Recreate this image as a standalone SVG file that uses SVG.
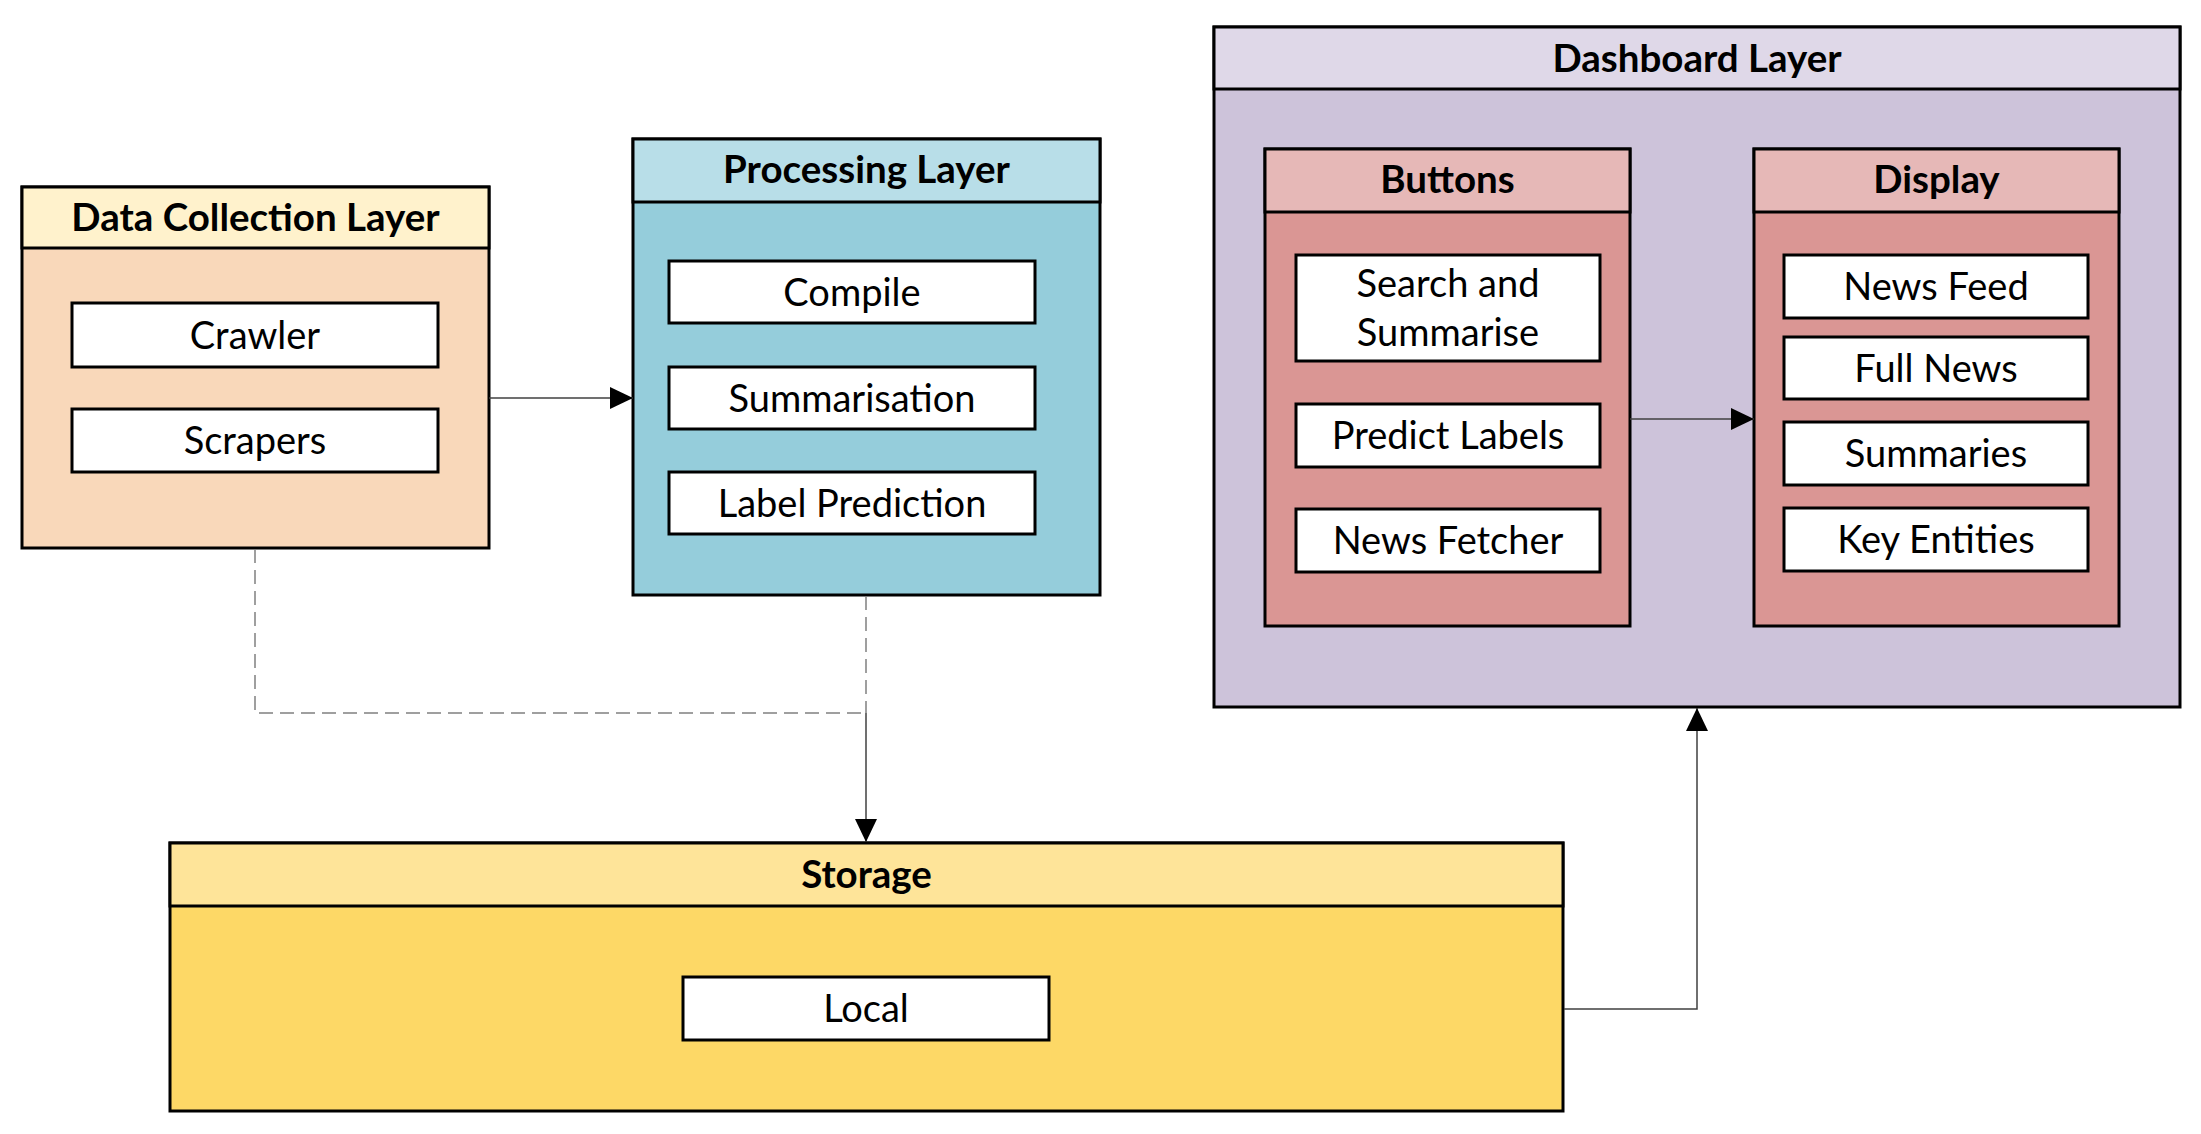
<svg xmlns="http://www.w3.org/2000/svg" width="2201" height="1134" viewBox="0 0 2201 1134">
<defs>
<style>
.box{stroke:#000;stroke-width:3}
.item{fill:#fff;stroke:#000;stroke-width:3}
.title{font-family:Lato,"Liberation Sans",sans-serif;font-weight:bold;font-size:38.5px;text-anchor:middle;fill:#000}
.lbl{font-family:Lato,"Liberation Sans",sans-serif;font-size:38px;text-anchor:middle;fill:#000}
.conn{fill:none;stroke:#404040;stroke-width:1.5}
.dash{fill:none;stroke:#808080;stroke-width:1.5;stroke-dasharray:14 7}
</style>
<marker id="arr" markerUnits="userSpaceOnUse" markerWidth="24" markerHeight="22" refX="23" refY="11" orient="auto">
<path d="M0,0 L23,11 L0,22 Z" fill="#000"/>
</marker>
</defs>
<rect width="2201" height="1134" fill="#fff"/>

<g id="data-collection">
<rect class="box" x="22" y="187" width="467" height="361" fill="#F9D8BA"/>
<rect class="box" x="22" y="187" width="467" height="61" fill="#FFF2CC"/>
<text class="title" x="255.5" y="231">Data Collection Layer</text>
<rect class="item" x="72" y="303" width="366" height="64"/>
<text class="lbl" x="255" y="349">Crawler</text>
<rect class="item" x="72" y="409" width="366" height="63"/>
<text class="lbl" x="255" y="454">Scrapers</text>
</g>

<g id="processing">
<rect class="box" x="633" y="139" width="467" height="456" fill="#95CDDB"/>
<rect class="box" x="633" y="139" width="467" height="63" fill="#B8DEE8"/>
<text class="title" x="866.5" y="183">Processing Layer</text>
<rect class="item" x="669" y="261" width="366" height="62"/>
<text class="lbl" x="852" y="306">Compile</text>
<rect class="item" x="669" y="367" width="366" height="62"/>
<text class="lbl" x="852" y="412">Summarisation</text>
<rect class="item" x="669" y="472" width="366" height="62"/>
<text class="lbl" x="852" y="517">Label Prediction</text>
</g>

<g id="dashboard">
<rect class="box" x="1214" y="27" width="966" height="680" fill="#CDC3DA"/>
<rect class="box" x="1214" y="27" width="966" height="62" fill="#DFD8E8"/>
<text class="title" x="1697" y="72">Dashboard Layer</text>
</g>

<g id="buttons">
<rect class="box" x="1265" y="149" width="365" height="477" fill="#DA9694"/>
<rect class="box" x="1265" y="149" width="365" height="63" fill="#E6B8B7"/>
<text class="title" x="1447.5" y="193">Buttons</text>
<rect class="item" x="1296" y="255" width="304" height="106"/>
<text class="lbl" x="1448" y="297">Search and</text>
<text class="lbl" x="1448" y="346">Summarise</text>
<rect class="item" x="1296" y="404" width="304" height="63"/>
<text class="lbl" x="1448" y="449">Predict Labels</text>
<rect class="item" x="1296" y="509" width="304" height="63"/>
<text class="lbl" x="1448" y="554">News Fetcher</text>
</g>

<g id="display">
<rect class="box" x="1754" y="149" width="365" height="477" fill="#DA9694"/>
<rect class="box" x="1754" y="149" width="365" height="63" fill="#E6B8B7"/>
<text class="title" x="1936.5" y="193">Display</text>
<rect class="item" x="1784" y="255" width="304" height="63"/>
<text class="lbl" x="1936" y="300">News Feed</text>
<rect class="item" x="1784" y="337" width="304" height="62"/>
<text class="lbl" x="1936" y="382">Full News</text>
<rect class="item" x="1784" y="422" width="304" height="63"/>
<text class="lbl" x="1936" y="467">Summaries</text>
<rect class="item" x="1784" y="508" width="304" height="63"/>
<text class="lbl" x="1936" y="553">Key Entities</text>
</g>

<g id="storage">
<rect class="box" x="170" y="843" width="1393" height="268" fill="#FDD866"/>
<rect class="box" x="170" y="843" width="1393" height="63" fill="#FEE499"/>
<text class="title" x="866.5" y="888">Storage</text>
<rect class="item" x="683" y="977" width="366" height="63"/>
<text class="lbl" x="866" y="1022">Local</text>
</g>

<g id="connectors">
<line class="conn" x1="489" y1="398" x2="633" y2="398" marker-end="url(#arr)"/>
<line class="conn" x1="1630" y1="419" x2="1754" y2="419" marker-end="url(#arr)"/>
<polyline class="dash" points="255,549 255,713 866,713"/>
<line class="dash" x1="866" y1="596" x2="866" y2="713"/>
<line class="conn" x1="866" y1="713" x2="866" y2="842" marker-end="url(#arr)"/>
<polyline class="conn" points="1564,1009 1697,1009 1697,708" marker-end="url(#arr)"/>
</g>
</svg>
